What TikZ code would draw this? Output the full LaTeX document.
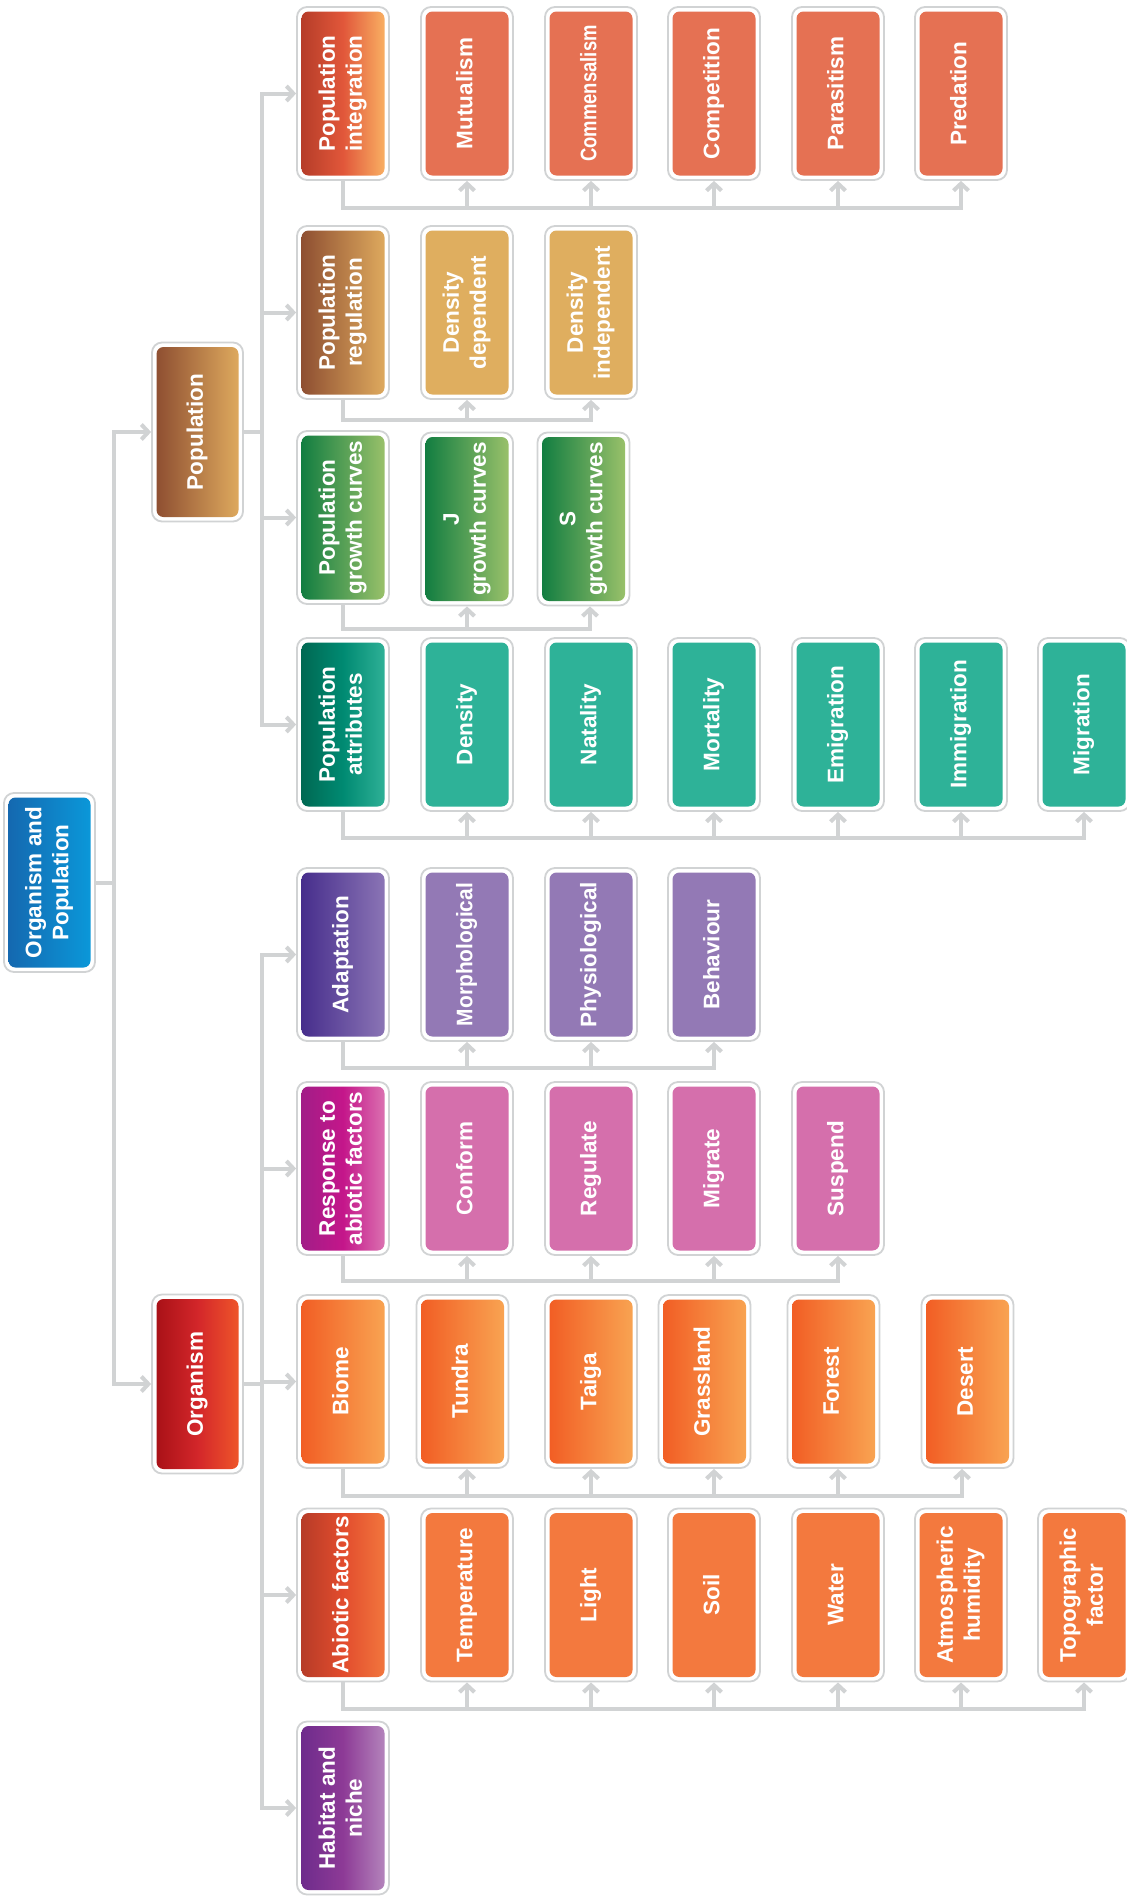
\documentclass[tikz,border=0pt]{standalone}
\usepackage{fontspec}
\setmainfont{Liberation Sans}
\usepackage{graphicx}
\usetikzlibrary{arrows.meta,backgrounds}
\definecolor{linegray}{HTML}{D1D3D4}
\definecolor{rootA}{HTML}{1566AE}\definecolor{rootB}{HTML}{0A9ADB}
\definecolor{popA}{HTML}{8A4A2F}\definecolor{popB}{HTML}{E2AE60}
\definecolor{orgA}{HTML}{A50F15}\definecolor{orgB}{HTML}{D3262A}\definecolor{orgC}{HTML}{F15A2A}
\definecolor{pintA}{HTML}{B23A27}\definecolor{pintB}{HTML}{E1573A}\definecolor{pintC}{HTML}{FBB867}
\definecolor{inter}{HTML}{E57153}
\definecolor{densflat}{HTML}{DFAE5F}
\definecolor{grA}{HTML}{0B7A3F}\definecolor{grB}{HTML}{A0C46C}
\definecolor{attA}{HTML}{00654F}\definecolor{attB}{HTML}{008A72}\definecolor{attC}{HTML}{33B49A}
\definecolor{attflat}{HTML}{2EB298}
\definecolor{adA}{HTML}{432A8A}\definecolor{adB}{HTML}{8E78B7}\definecolor{adflat}{HTML}{9379B5}
\definecolor{reA}{HTML}{9E1E87}\definecolor{reB}{HTML}{C4168A}\definecolor{reC}{HTML}{DD7AB4}
\definecolor{reflat}{HTML}{D56FAC}
\definecolor{biA}{HTML}{F15A22}\definecolor{biB}{HTML}{F9A754}
\definecolor{abA}{HTML}{B23A27}\definecolor{abB}{HTML}{E24C2D}\definecolor{abC}{HTML}{F37A3F}
\definecolor{abflat}{HTML}{F3793E}
\definecolor{haA}{HTML}{6B2A8B}\definecolor{haB}{HTML}{8D3A96}\definecolor{haC}{HTML}{B78BBF}
\newcommand\boxfont{\bfseries\fontsize{22.5}{27}\selectfont}
\newcommand\rt[1]{\rotatebox{90}{\begin{tabular}{@{}c@{}}#1\end{tabular}}}
\newcommand\cond[2]{\scalebox{#1}[1]{#2}}
\begin{document}
\begin{tikzpicture}[x=1pt,y=1pt,
  inshade/.style={},
  flat/.style={inshade/.style={fill=#1}},
  gtwo/.style n args={2}{inshade/.style={left color=#1, right color=#2}},
  gthree/.style n args={3}{inshade/.style={left color=#1, right color=#3, middle color=#2}},
  box/.style={draw=linegray, line width=1.8pt, fill=white, rounded corners=10pt,
    minimum width=92pt, minimum height=173pt, inner sep=0pt, text=white, font=\boxfont,
    path picture={\path[inshade, rounded corners=7pt]
      ([shift={(4.5pt,4.5pt)}]path picture bounding box.south west) rectangle
      ([shift={(-4.5pt,-4.5pt)}]path picture bounding box.north east);}},
  big/.style={minimum width=91pt, minimum height=179pt},
  ln/.style={draw=linegray, line width=4pt, line cap=rect},
  arr/.style={draw=linegray, line width=4pt, -{Straight Barb[length=7pt,width=15pt]}}
]
\useasboundingbox (0,0) rectangle (1127,-1896);
\clip (0,0) rectangle (1127,-1896);

% level 0 and 1
\node[box, big, gtwo={rootA}{rootB}] (root) at (49.5,-882.5) {\rt{Organism and\\Population}};
\node[box, big, gtwo={popA}{popB}] (pop) at (197.5,-432) {\rt{Population}};
\node[box, big, gthree={orgA}{orgB}{orgC}] (org) at (197.5,-1384) {\rt{Organism}};

% row 1
\node[box, gthree={pintA}{pintB}{pintC}] (pint) at (343,-93.5) {\rt{Population\\integration}};
\node[box, flat=inter] (mut) at (467,-93.5) {\rt{Mutualism}};
\node[box, flat=inter] (com) at (591,-93.5) {\rt{\cond{0.82}{Commensalism}}};
\node[box, flat=inter] (cmp) at (714,-93.5) {\rt{Competition}};
\node[box, flat=inter] (par) at (838,-93.5) {\rt{Parasitism}};
\node[box, flat=inter] (pred) at (961,-93.5) {\rt{Predation}};

% row 2
\node[box, gtwo={popA}{popB}] (preg) at (343,-312.5) {\rt{Population\\regulation}};
\node[box, flat=densflat] (dd) at (467,-312.5) {\rt{Density\\dependent}};
\node[box, flat=densflat] (di) at (591,-312.5) {\rt{Density\\independent}};

% row 3
\node[box, gtwo={grA}{grB}] (pgc) at (343,-517.5) {\rt{Population\\growth curves}};
\node[box, gtwo={grA}{grB}] (jg) at (467,-519) {\rt{J\\growth curves}};
\node[box, gtwo={grA}{grB}] (sg) at (583.5,-519) {\rt{S\\growth curves}};

% row 4
\node[box, gthree={attA}{attB}{attC}] (patt) at (343,-724.5) {\rt{Population\\attributes}};
\node[box, flat=attflat] (dens) at (467,-724.5) {\rt{Density}};
\node[box, flat=attflat] (nat) at (591,-724.5) {\rt{Natality}};
\node[box, flat=attflat] (mort) at (714,-724.5) {\rt{Mortality}};
\node[box, flat=attflat] (emi) at (838,-724.5) {\rt{Emigration}};
\node[box, flat=attflat] (imm) at (961,-724.5) {\rt{Immigration}};
\node[box, flat=attflat] (mig) at (1084,-724.5) {\rt{Migration}};

% row 5
\node[box, gtwo={adA}{adB}] (adap) at (343,-954.5) {\rt{Adaptation}};
\node[box, flat=adflat] (morph) at (467,-954.5) {\rt{\cond{0.93}{Morphological}}};
\node[box, flat=adflat] (phys) at (591,-954.5) {\rt{Physiological}};
\node[box, flat=adflat] (beh) at (714,-954.5) {\rt{Behaviour}};

% row 6
\node[box, gthree={reA}{reB}{reC}] (resp) at (343,-1168.5) {\rt{Response to\\abiotic factors}};
\node[box, flat=reflat] (conf) at (467,-1168.5) {\rt{Conform}};
\node[box, flat=reflat] (regu) at (591,-1168.5) {\rt{Regulate}};
\node[box, flat=reflat] (migr) at (714,-1168.5) {\rt{Migrate}};
\node[box, flat=reflat] (susp) at (838,-1168.5) {\rt{Suspend}};

% row 7
\node[box, gtwo={biA}{biB}] (biome) at (343,-1381.5) {\rt{Biome}};
\node[box, gtwo={biA}{biB}] (tund) at (462.5,-1381.5) {\rt{Tundra}};
\node[box, gtwo={biA}{biB}] (taiga) at (591,-1381.5) {\rt{Taiga}};
\node[box, gtwo={biA}{biB}] (grass) at (704.5,-1381.5) {\rt{Grassland}};
\node[box, gtwo={biA}{biB}] (forest) at (833.5,-1381.5) {\rt{Forest}};
\node[box, gtwo={biA}{biB}] (desert) at (967.5,-1381.5) {\rt{Desert}};

% row 8
\node[box, gthree={abA}{abB}{abC}] (abio) at (343,-1595) {\rt{Abiotic factors}};
\node[box, flat=abflat] (temp) at (467,-1595) {\rt{Temperature}};
\node[box, flat=abflat] (light) at (591,-1595) {\rt{Light}};
\node[box, flat=abflat] (soil) at (714,-1595) {\rt{Soil}};
\node[box, flat=abflat] (water) at (838,-1595) {\rt{Water}};
\node[box, flat=abflat] (atm) at (961,-1595) {\rt{Atmospheric\\humidity}};
\node[box, flat=abflat] (topo) at (1084,-1595) {\rt{Topographic\\factor}};

% row 9
\node[box, gthree={haA}{haB}{haC}] (hab) at (343,-1808) {\rt{Habitat and\\niche}};

% bus levels
\coordinate (b1) at (0,-208);
\coordinate (b2) at (0,-420);
\coordinate (b3) at (0,-629);
\coordinate (b4) at (0,-838);
\coordinate (b5) at (0,-1068);
\coordinate (b6) at (0,-1281);
\coordinate (b7) at (0,-1496);
\coordinate (b8) at (0,-1709);
% arrow anchors for shifted boxes
\coordinate (sgA) at ([xshift=6.5pt]sg.south);
\coordinate (tundA) at ([xshift=4.5pt]tund.south);
\coordinate (grassA) at ([xshift=9.5pt]grass.south);
\coordinate (forestA) at ([xshift=4.5pt]forest.south);
\coordinate (desertA) at ([xshift=-5.5pt]desert.south);

\begin{pgfonlayer}{background}
\fill[white] (0,0) rectangle (1127,-1896);
% spines
\draw[arr] (root.east) -- ++(18,0) |- (pop.west);
\draw[arr] (root.east) -- ++(18,0) |- (org.west);
\foreach \c in {pint,preg,pgc,patt} \draw[arr] (pop.east) -- ++(18,0) |- (\c.west);
\foreach \c in {adap,resp,biome,abio,hab} \draw[arr] (org.east) -- ++(18,0) |- (\c.west);
% row buses
\draw[ln] (pint.south) |- (pred.south |- b1);
\foreach \c in {mut,com,cmp,par,pred} \draw[arr] (\c.south |- b1) -- (\c.south);
\draw[ln] (preg.south) |- (di.south |- b2);
\foreach \c in {dd,di} \draw[arr] (\c.south |- b2) -- (\c.south);
\draw[ln] (pgc.south) |- (sgA |- b3);
\draw[arr] (jg.south |- b3) -- (jg.south);
\draw[arr] (sgA |- b3) -- (sgA);
\draw[ln] (patt.south) |- (mig.south |- b4);
\foreach \c in {dens,nat,mort,emi,imm,mig} \draw[arr] (\c.south |- b4) -- (\c.south);
\draw[ln] (adap.south) |- (beh.south |- b5);
\foreach \c in {morph,phys,beh} \draw[arr] (\c.south |- b5) -- (\c.south);
\draw[ln] (resp.south) |- (susp.south |- b6);
\foreach \c in {conf,regu,migr,susp} \draw[arr] (\c.south |- b6) -- (\c.south);
\draw[ln] (biome.south) |- (desertA |- b7);
\foreach \c in {tundA,taiga.south,grassA,forestA,desertA} \draw[arr] (\c |- b7) -- (\c);
\draw[ln] (abio.south) |- (topo.south |- b8);
\foreach \c in {temp,light,soil,water,atm,topo} \draw[arr] (\c.south |- b8) -- (\c.south);
\end{pgfonlayer}
\end{tikzpicture}
\end{document}
